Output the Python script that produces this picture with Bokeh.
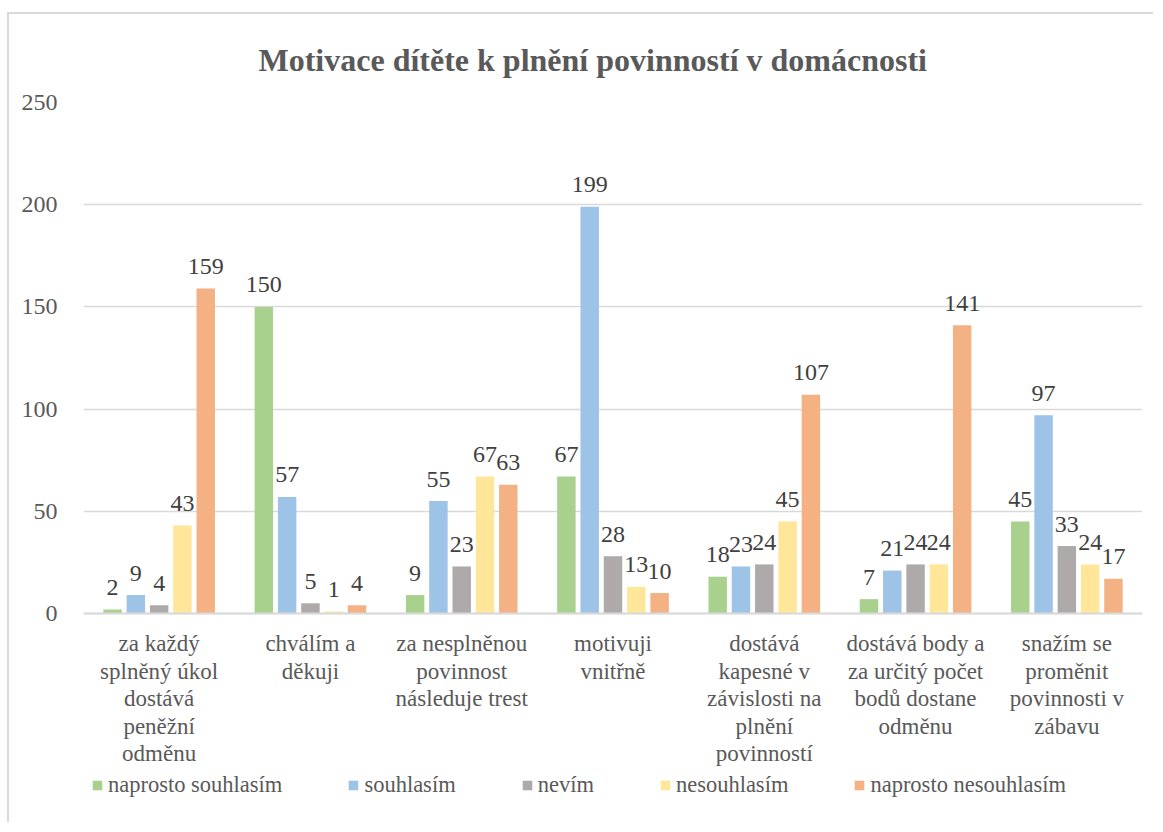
from bokeh.plotting import figure
from bokeh.models import ColumnDataSource, FactorRange, Legend, LegendItem, FixedTicker, Range1d
from bokeh.transform import dodge
from bokeh.core.properties import value
from bokeh.embed import file_html
from bokeh.resources import INLINE

categories = [
    "za každý splněný úkol dostává peněžní odměnu",
    "chválím a děkuji",
    "za nesplněnou povinnost následuje trest",
    "motivuji vnitřně",
    "dostává kapesné v závislosti na plnění povinností",
    "dostává body a za určitý počet bodů dostane odměnu",
    "snažím se proměnit povinnosti v zábavu",
]
tick_labels = [
    "za každý\nsplněný úkol\ndostává\npeněžní\nodměnu",
    "chválím a\nděkuji",
    "za nesplněnou\npovinnost\nnásleduje trest",
    "motivuji\nvnitřně",
    "dostává\nkapesné v\nzávislosti na\nplnění\npovinností",
    "dostává body a\nza určitý počet\nbodů dostane\nodměnu",
    "snažím se\nproměnit\npovinnosti v\nzábavu",
]
series = ["naprosto souhlasím", "souhlasím", "nevím", "nesouhlasím", "naprosto nesouhlasím"]
naprosto_souhlasim = [2, 150, 9, 67, 18, 7, 45]
souhlasim = [9, 57, 55, 199, 23, 21, 97]
nevim = [4, 5, 23, 28, 24, 24, 33]
nesouhlasim = [43, 1, 67, 13, 45, 24, 24]
naprosto_nesouhlasim = [159, 4, 63, 10, 107, 141, 17]
y_ticks = [0, 50, 100, 150, 200, 250]

colors = ["#A9D18E", "#9DC3E6", "#AEAAAA", "#FFE699", "#F4B183"]
keys = ["s0", "s1", "s2", "s3", "s4"]
values_list = [naprosto_souhlasim, souhlasim, nevim, nesouhlasim, naprosto_nesouhlasim]

label_of = dict(zip(categories, tick_labels))
data = {"cat": [label_of[c] for c in categories]}
for k, v in zip(keys, values_list):
    data[k] = v
    data[k + "_lbl"] = [str(x) for x in v]
src = ColumnDataSource(data)

FONT = "Liberation Serif"

# frame extends below the value axis to hold the category labels and legend
p = figure(
    x_range=FactorRange(factors=[label_of[c] for c in categories], range_padding=0),
    y_range=Range1d(-100.8, 250),
    width=1146, height=810,
    output_backend="svg", toolbar_location=None,
    min_border_left=74, min_border_right=13, min_border_top=88, min_border_bottom=5,
    title="Motivace dítěte k plnění povinností v domácnosti",
)
p.styles = {"border-top": "2px solid #D9D9D9", "border-left": "2px solid #D9D9D9",
            "margin-top": "12px", "margin-left": "7px"}

p.title.align = "left"
p.title.text_font = FONT
p.title.text_font_size = "32px"
p.title.text_font_style = "bold"
p.title.text_color = "#595959"
p.title.standoff = 50
p.title.offset = 175

p.outline_line_color = None
p.xgrid.grid_line_color = None
p.ygrid.grid_line_color = "#D9D9D9"
p.ygrid.grid_line_width = 1.5
p.yaxis.ticker = FixedTicker(ticks=y_ticks)
p.yaxis.axis_line_color = None
p.yaxis.major_tick_line_color = None
p.yaxis.minor_tick_line_color = None
p.yaxis.major_label_text_font = FONT
p.yaxis.major_label_text_font_size = "24px"
p.yaxis.major_label_text_color = "#595959"
p.yaxis.major_label_standoff = 20

p.xaxis.fixed_location = 0
p.xaxis.axis_line_color = "#D9D9D9"
p.xaxis.axis_line_width = 2
p.xaxis.major_tick_line_color = None
p.xaxis.major_label_text_font = FONT
p.xaxis.major_label_text_font_size = "23px"
p.xaxis.major_label_text_color = "#595959"
p.xaxis.major_label_text_line_height = 1.1
p.xaxis.major_label_standoff = 12

offsets = [-0.308, -0.154, 0.0, 0.154, 0.308]
items = []
for k, off, c, name in zip(keys, offsets, colors, series):
    r = p.vbar(x=dodge("cat", off, range=p.x_range), top=k, width=0.122, source=src,
               fill_color=c, line_color=None)
    p.text(x=dodge("cat", off, range=p.x_range), y=k, text=k + "_lbl", source=src,
           text_align="center", text_baseline="alphabetic", y_offset=-22,
           text_font=value(FONT), text_font_size="24px", text_color="#404040")
    items.append(LegendItem(label=name, renderers=[r]))

legend = Legend(items=items, orientation="horizontal", location=(8, 21),
                label_text_font=FONT, label_text_font_size="22.5px", label_text_color="#595959",
                glyph_width=12, glyph_height=12, label_standoff=5, spacing=65,
                border_line_color=None, background_fill_alpha=0, padding=0, margin=0)
p.add_layout(legend, "center")

open("out.html", "w").write(file_html(p, INLINE))
